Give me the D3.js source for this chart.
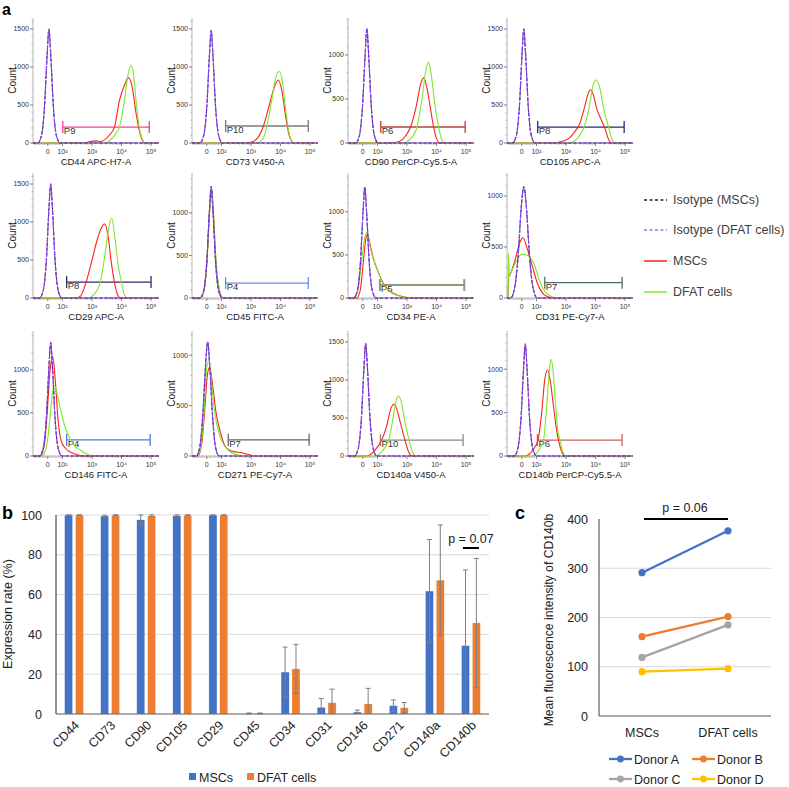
<!DOCTYPE html>
<html><head><meta charset="utf-8">
<script src="https://cdn.jsdelivr.net/npm/d3@7"></script>
<style>body{margin:0;background:#fff;} svg{display:block;}</style>
</head><body>
<svg id="chart" width="789" height="787"></svg>
<script>
// ---------- Panel a: flow cytometry histograms ----------
const histTitles = ["CD44 APC-H7-A","CD73 V450-A","CD90 PerCP-Cy5.5-A","CD105 APC-A",
  "CD29 APC-A","CD45 FITC-A","CD34 PE-A","CD31 PE-Cy7-A",
  "CD146 FITC-A","CD271 PE-Cy7-A","CD140a V450-A","CD140b PerCP-Cy5.5-A"];
const gateNames = ["P9","P10","P6","P8","P8","P4","P5","P7","P4","P7","P10","P6"];
const gateColors = ["#ff3aa0","#7a7a7a","#b04444","#2a2a7a","#2a2a6a","#6a8ee8","#8e9a7c","#4f6b6b","#4c7be6","#5a6a6a","#8a8a8a","#c86060"];
// [start channel, end channel, count level]
const gateRanges = [[2.01,4.94,210],[2.14,4.94,224],[2.11,4.97,182],[2.04,4.97,210],
  [2.14,5.0,210],[2.14,4.94,176],[2.08,4.94,150],[2.28,4.9,150],
  [2.14,4.97,186],[2.23,4.97,160],[2.1,4.9,210],[2.03,4.9,184]];
const histYMax = [1645,1645,1420,1645,1645,1470,1450,1225,1450,1240,1645,1440];
const xTickVals = [1.5,2,3,4,5];
const xTickLabels = ["0","10\u00b2","10\u00b3","10\u2074","10\u2075"];

// isotype controls (MSCs and DFAT cells overlap)
const isoCurves = [
  [[1,0],[1.16,0],[1.29,105],[1.39,480],[1.48,1170],[1.54,1500],[1.6,1170],[1.69,480],[1.79,105],[1.92,0],[5.27,0]],
  [[1,0],[1.27,0],[1.4,105],[1.5,470],[1.59,1150],[1.65,1480],[1.71,1150],[1.8,470],[1.9,105],[2.03,0],[5.27,0]],
  [[1,0],[1.26,0],[1.39,90],[1.49,410],[1.58,1000],[1.64,1300],[1.7,1000],[1.79,410],[1.89,90],[2.02,0],[5.27,0]],
  [[1,0],[1.19,0],[1.32,105],[1.42,480],[1.51,1170],[1.57,1500],[1.63,1170],[1.72,480],[1.82,105],[1.95,0],[5.27,0]],
  [[1,0],[1.22,0],[1.35,105],[1.45,480],[1.54,1170],[1.6,1500],[1.66,1170],[1.75,480],[1.85,105],[1.98,0],[5.27,0]],
  [[1,0],[1.27,0],[1.4,90],[1.5,420],[1.59,1020],[1.65,1310],[1.71,1020],[1.8,420],[1.9,90],[2.03,0],[5.27,0]],
  [[1,0],[1.19,0],[1.32,90],[1.42,410],[1.51,1000],[1.57,1290],[1.63,1000],[1.72,410],[1.82,90],[1.95,0],[5.27,0]],
  [[1,0],[1.12,0],[1.27,120],[1.38,420],[1.48,880],[1.57,1090],[1.66,880],[1.76,420],[1.87,120],[2.02,0],[5.27,0]],
  [[1,0],[1.22,0],[1.35,95],[1.45,420],[1.54,1030],[1.6,1315],[1.66,1030],[1.75,420],[1.85,95],[1.98,0],[5.27,0]],
  [[1,0],[1.15,0],[1.27,100],[1.37,430],[1.46,900],[1.53,1130],[1.6,900],[1.69,430],[1.79,100],[1.92,0],[5.27,0]],
  [[1,0],[1.22,0],[1.35,105],[1.45,470],[1.54,1150],[1.6,1480],[1.66,1150],[1.75,470],[1.85,105],[1.98,0],[5.27,0]],
  [[1,0],[1.24,0],[1.37,90],[1.47,410],[1.56,1000],[1.62,1290],[1.68,1000],[1.77,410],[1.87,90],[2.0,0],[5.27,0]]
];
const mscCurves = [
  [[1,0],[2.7,0],[2.95,20],[3.15,28],[3.3,20],[3.59,105],[3.76,210],[3.93,560],[4.1,760],[4.23,860],[4.38,700],[4.49,395],[4.66,80],[4.8,0],[5.27,0]],
  [[1,0],[2.85,0],[3.05,15],[3.25,80],[3.41,210],[3.6,470],[3.78,720],[3.92,830],[4.05,680],[4.18,330],[4.3,90],[4.45,0],[5.27,0]],
  [[1,0],[2.5,0],[2.75,20],[2.95,80],[3.12,182],[3.3,400],[3.47,680],[3.57,740],[3.68,620],[3.8,380],[3.9,182],[4.0,50],[4.12,0],[5.27,0]],
  [[1,0],[2.6,0],[2.85,20],[3.1,60],[3.3,150],[3.45,240],[3.62,460],[3.75,650],[3.83,700],[3.92,640],[4.05,440],[4.2,300],[4.33,180],[4.45,40],[4.55,0],[5.27,0]],
  [[1,0],[2.45,0],[2.6,20],[2.8,210],[3.0,500],[3.2,800],[3.42,975],[3.55,800],[3.66,450],[3.76,210],[3.86,50],[3.96,0],[5.27,0]],
  [[1,0],[1.28,0],[1.4,80],[1.5,400],[1.6,1050],[1.66,1290],[1.72,1040],[1.81,440],[1.92,100],[2.05,0],[5.27,0]],
  [[1,0],[1.3,0],[1.42,100],[1.52,420],[1.6,680],[1.66,735],[1.75,620],[1.85,470],[2.0,320],[2.15,200],[2.3,120],[2.5,60],[2.75,25],[3.0,5],[3.2,0],[5.27,0]],
  [[1,0],[1.03,0],[1.06,210],[1.12,240],[1.27,370],[1.43,540],[1.54,590],[1.7,470],[1.87,300],[2.03,145],[2.2,50],[2.36,15],[2.6,0],[5.27,0]],
  [[1,0],[1.25,0],[1.38,120],[1.48,500],[1.58,1000],[1.67,1150],[1.75,900],[1.85,420],[1.95,180],[2.1,90],[2.3,40],[2.5,15],[2.7,0],[5.27,0]],
  [[1,0],[1.2,0],[1.33,120],[1.43,450],[1.52,800],[1.6,880],[1.7,700],[1.82,420],[1.95,250],[2.1,110],[2.25,60],[2.5,40],[2.75,28],[2.95,12],[3.1,0],[5.27,0]],
  [[1,0],[1.6,0],[1.8,30],[1.98,110],[2.14,210],[2.3,380],[2.45,620],[2.56,685],[2.65,620],[2.78,430],[2.93,210],[3.05,60],[3.18,0],[5.27,0]],
  [[1,0],[1.6,0],[1.75,20],[1.9,80],[2.05,184],[2.17,480],[2.28,880],[2.37,990],[2.46,880],[2.58,560],[2.69,280],[2.78,130],[2.88,30],[2.98,0],[5.27,0]]
];
const dfatCurves = [
  [[1,0],[3.4,0],[3.6,30],[3.78,110],[3.93,210],[4.1,560],[4.22,900],[4.32,1020],[4.4,930],[4.49,565],[4.6,210],[4.72,40],[4.82,0],[5.27,0]],
  [[1,0],[3.2,0],[3.38,40],[3.53,210],[3.7,560],[3.85,880],[3.96,940],[4.06,820],[4.18,420],[4.3,110],[4.45,0],[5.27,0]],
  [[1,0],[2.9,0],[3.1,40],[3.34,182],[3.5,480],[3.65,850],[3.73,920],[3.82,780],[3.95,420],[4.07,182],[4.18,40],[4.28,0],[5.27,0]],
  [[1,0],[3.1,0],[3.3,30],[3.45,90],[3.61,210],[3.78,460],[3.92,760],[4.02,830],[4.12,760],[4.28,450],[4.44,210],[4.55,60],[4.65,0],[5.27,0]],
  [[1,0],[2.9,0],[3.05,40],[3.28,210],[3.45,600],[3.58,950],[3.67,1050],[3.78,780],[3.9,400],[4.0,210],[4.1,40],[4.2,0],[5.27,0]],
  [[1,0],[1.28,0],[1.4,80],[1.5,390],[1.6,1030],[1.66,1270],[1.72,1030],[1.81,450],[1.93,100],[2.06,0],[5.27,0]],
  [[1,0],[1.22,0],[1.35,120],[1.47,450],[1.57,700],[1.64,760],[1.72,640],[1.83,480],[2.0,320],[2.15,190],[2.3,110],[2.5,55],[2.75,20],[3.0,5],[3.2,0],[5.27,0]],
  [[1,0],[1.04,0],[1.05,440],[1.08,230],[1.2,290],[1.35,380],[1.5,430],[1.62,425],[1.78,400],[1.92,330],[2.1,170],[2.3,60],[2.5,15],[2.7,0],[5.27,0]],
  [[1,0],[1.3,0],[1.45,100],[1.57,420],[1.66,740],[1.73,815],[1.82,720],[1.92,560],[2.05,380],[2.25,200],[2.4,120],[2.6,70],[2.8,25],[3.05,0],[5.27,0]],
  [[1,0],[1.2,0],[1.32,130],[1.42,500],[1.5,880],[1.56,940],[1.65,760],[1.77,430],[1.92,220],[2.1,100],[2.3,40],[2.5,15],[2.7,0],[5.27,0]],
  [[1,0],[1.9,0],[2.1,40],[2.25,110],[2.38,210],[2.52,480],[2.64,740],[2.72,790],[2.8,720],[2.93,450],[3.07,210],[3.18,60],[3.3,0],[5.27,0]],
  [[1,0],[1.85,0],[2.0,30],[2.12,90],[2.24,184],[2.35,600],[2.44,1000],[2.49,1115],[2.55,1020],[2.64,620],[2.72,300],[2.8,184],[2.89,50],[2.99,0],[5.27,0]]
];
const histLegend = ["Isotype (MSCs)","Isotype (DFAT cells)","MSCs","DFAT cells"];

// ---------- Panel b: expression rates ----------
const markers = ["CD44","CD73","CD90","CD105","CD29","CD45","CD34","CD31","CD146","CD271","CD140a","CD140b"];
const mscRate  = [100, 99.5, 97.6, 99.7, 100, 0.3, 21.1, 3.4, 1.0, 4.2, 61.8, 34.4];
const dfatRate = [100, 99.9, 99.6, 99.9, 100, 0.3, 22.7, 5.7, 5.1, 3.2, 67.3, 45.8];
const mscSD    = [0.1, 0.4, 2.4, 0.4, 0.05, 0.2, 12.5, 4.4, 1.0, 2.9, 25.9, 38.0];
const dfatSD   = [0.05, 0.2, 0.5, 0.2, 0.05, 0.2, 12.3, 6.8, 7.8, 2.6, 27.7, 32.4];
const rateTicks = [0,20,40,60,80,100];
const groupNames = ["MSCs","DFAT cells"];

// ---------- Panel c: MFI of CD140b ----------
const cellTypes = ["MSCs","DFAT cells"];
const donors = ["Donor A","Donor B","Donor C","Donor D"];
const donorA = [291, 376];
const donorB = [161, 202];
const donorC = [119, 185];
const donorD = [90, 96];
const mfiTicks = [0,100,200,300,400];

const svg = d3.select("#chart");
const SANS = "'Liberation Sans', Arial, sans-serif";

// ===== Panel a =====
svg.append("text").attr("x",2).attr("y",15).attr("font-family",SANS).attr("font-weight","bold")
  .attr("font-size",16).text("a");

const colX = [33,192,348,507], rowY = [18,173,331], PW = 126, PH = 125;
histTitles.forEach((title,i)=>{
  const r = Math.floor(i/4), c = i%4;
  const g = svg.append("g").attr("transform",`translate(${colX[c]},${rowY[r]})`);
  const x = d3.scaleLinear().domain([1.0,5.27]).range([0,PW]);
  const y = d3.scaleLinear().domain([0,histYMax[i]]).range([PH,0]);
  // y axis
  g.append("line").attr("x1",0).attr("x2",0).attr("y1",0).attr("y2",PH).attr("stroke","#b4b4b4");
  d3.range(0,histYMax[i],100).forEach(v=>{
    g.append("line").attr("x1",-1.5).attr("x2",0).attr("y1",y(v)).attr("y2",y(v)).attr("stroke","#b4b4b4");
  });
  const yt = histYMax[i] >= 1500 ? [0,500,1000,1500] : [0,500,1000];
  yt.forEach(v=>{
    g.append("line").attr("x1",-3).attr("x2",0).attr("y1",y(v)).attr("y2",y(v)).attr("stroke","#888");
    g.append("text").attr("x",-4).attr("y",y(v)).attr("dy","0.35em").attr("text-anchor","end")
      .attr("font-family",SANS).attr("font-size",7).attr("fill","#333").text(v);
  });
  // x axis
  g.append("line").attr("x1",0).attr("x2",PW).attr("y1",PH).attr("y2",PH).attr("stroke","#b4b4b4");
  const minor = [];
  for (let v=1.04; v<1.98; v+=0.045) minor.push(v);
  [2,3,4].forEach(d=>[2,3,4,5,6,7,8,9].forEach(k=>minor.push(d+Math.log10(k))));
  minor.forEach(v=>{
    g.append("line").attr("x1",x(v)).attr("x2",x(v)).attr("y1",PH).attr("y2",PH+2).attr("stroke","#bbb").attr("stroke-width",0.8);
  });
  xTickVals.forEach((v,k)=>{
    g.append("line").attr("x1",x(v)).attr("x2",x(v)).attr("y1",PH).attr("y2",PH+3).attr("stroke","#888");
    g.append("text").attr("x",x(v)).attr("y",PH+11).attr("text-anchor","middle")
      .attr("font-family",SANS).attr("font-size",7).attr("fill","#333").text(xTickLabels[k]);
  });
  g.append("text").attr("x",PW/2).attr("y",PH+22).attr("text-anchor","middle")
    .attr("font-family",SANS).attr("font-size",9.5).attr("fill","#222").text(title);
  g.append("text").attr("transform",`translate(-17,${PH/2}) rotate(-90)`).attr("text-anchor","middle")
    .attr("font-family",SANS).attr("font-size",10).attr("fill","#222").text("Count");
  // gate
  const gr = gateRanges[i], gy = y(gr[2]);
  const gg = g.append("g").attr("stroke",gateColors[i]).attr("stroke-width", i===6 ? 2 : 1.3);
  gg.append("line").attr("x1",x(gr[0])).attr("x2",x(gr[1])).attr("y1",gy).attr("y2",gy);
  gg.append("line").attr("x1",x(gr[0])).attr("x2",x(gr[0])).attr("y1",gy-6).attr("y2",gy+6);
  gg.append("line").attr("x1",x(gr[1])).attr("x2",x(gr[1])).attr("y1",gy-6).attr("y2",gy+6);
  g.append("text").attr("x",x(gr[0])+1).attr("y",gy+7).attr("font-family",SANS).attr("font-size",9.5)
    .attr("fill","#333").text(gateNames[i]);
  // curves
  const line = d3.line().x(d=>x(d[0])).y(d=>y(d[1])).curve(d3.curveMonotoneX);
  g.append("path").attr("d",line(mscCurves[i])).attr("fill","none").attr("stroke","#ff2020").attr("stroke-width",1.1);
  g.append("path").attr("d",line(dfatCurves[i])).attr("fill","none").attr("stroke","#7ee82a").attr("stroke-width",1.1);
  g.append("path").attr("d",line(isoCurves[i])).attr("fill","none").attr("stroke","#222").attr("stroke-width",1.1).attr("stroke-dasharray","3,2");
  g.append("path").attr("d",line(isoCurves[i])).attr("fill","none").attr("stroke","#8a3ff0").attr("stroke-width",1.2).attr("stroke-dasharray","6,1");
});

// legend for panel a
const legStyles = [
  {stroke:"#222", dash:"3,2.5", w:1.3},
  {stroke:"#a070f0", dash:"3,2.5", w:1.3},
  {stroke:"#ff2020", dash:null, w:1.5},
  {stroke:"#7ee82a", dash:null, w:1.5}
];
const legY = [200,230,261,292];
histLegend.forEach((t,k)=>{
  const l = svg.append("line").attr("x1",644).attr("x2",667).attr("y1",legY[k]).attr("y2",legY[k])
    .attr("stroke",legStyles[k].stroke).attr("stroke-width",legStyles[k].w);
  if (legStyles[k].dash) l.attr("stroke-dasharray",legStyles[k].dash);
  svg.append("text").attr("x",673).attr("y",legY[k]).attr("dy","0.35em").attr("font-family",SANS)
    .attr("font-size",12.5).attr("fill","#404040").text(t);
});

// ===== Panel b =====
svg.append("text").attr("x",2).attr("y",519).attr("font-family",SANS).attr("font-weight","bold")
  .attr("font-size",18).text("b");
const bx = d3.scaleBand().domain(markers).range([56,489]);
const bInner = d3.scaleBand().domain(groupNames).range([-9.5,9.5]).paddingInner(0.25);
const by = d3.scaleLinear().domain([0,100]).range([714,515]);
const bColors = ["#4472c4","#ed7d31"];
rateTicks.forEach(v=>{
  if (v>0) svg.append("line").attr("x1",56).attr("x2",489).attr("y1",by(v)).attr("y2",by(v)).attr("stroke","#d9d9d9");
  svg.append("text").attr("x",42).attr("y",by(v)).attr("dy","0.36em").attr("text-anchor","end")
    .attr("font-family",SANS).attr("font-size",12.5).attr("fill","#222").text(v);
});
[mscRate, dfatRate].forEach((vals,s)=>{
  markers.forEach((m,k)=>{
    const cx = bx(m) + bx.bandwidth()/2 + bInner(groupNames[s]);
    svg.append("rect").attr("x",cx).attr("y",by(vals[k])).attr("width",bInner.bandwidth())
      .attr("height",by(0)-by(vals[k])).attr("fill",bColors[s]).attr("stroke","#fff").attr("stroke-width",0.4);
  });
});
[mscRate, dfatRate].forEach((vals,s)=>{
  const sds = s===0 ? mscSD : dfatSD;
  markers.forEach((m,k)=>{
    const ex = bx(m) + bx.bandwidth()/2 + bInner(groupNames[s]) + bInner.bandwidth()/2;
    const hi = by(vals[k]+sds[k]), lo = by(Math.max(0, vals[k]-sds[k]));
    const eg = svg.append("g").attr("stroke","#7f7f7f").attr("stroke-width",1);
    eg.append("line").attr("x1",ex).attr("x2",ex).attr("y1",hi).attr("y2",lo);
    eg.append("line").attr("x1",ex-2.5).attr("x2",ex+2.5).attr("y1",hi).attr("y2",hi);
    if (vals[k]-sds[k] > 0) eg.append("line").attr("x1",ex-2.5).attr("x2",ex+2.5).attr("y1",lo).attr("y2",lo);
  });
});
svg.append("line").attr("x1",56).attr("x2",489).attr("y1",714).attr("y2",714).attr("stroke","#595959");
svg.append("line").attr("x1",56).attr("x2",56).attr("y1",515).attr("y2",714).attr("stroke","#262626");
markers.forEach(m=>{
  const cx = bx(m) + bx.bandwidth()/2;
  svg.append("text").attr("transform",`translate(${cx+6},${726}) rotate(-45)`).attr("text-anchor","end")
    .attr("font-family",SANS).attr("font-size",12.5).attr("fill","#222").text(m);
});
svg.append("text").attr("transform",`translate(12,614) rotate(-90)`).attr("text-anchor","middle")
  .attr("font-family",SANS).attr("font-size",12.5).attr("fill","#222").text("Expression rate (%)");
// p value
const pxC = bx("CD140b") + bx.bandwidth()/2;
svg.append("line").attr("x1",pxC-8).attr("x2",pxC+8).attr("y1",548).attr("y2",548).attr("stroke","#000").attr("stroke-width",2);
svg.append("text").attr("x",pxC).attr("y",543).attr("text-anchor","middle").attr("font-family",SANS)
  .attr("font-size",12.5).attr("fill","#222").text("p = 0.07");
// legend b
[[189,"MSCs"],[247,"DFAT cells"]].forEach((d,s)=>{
  svg.append("rect").attr("x",d[0]).attr("y",773).attr("width",7).attr("height",7).attr("fill",bColors[s]);
  svg.append("text").attr("x",d[0]+10).attr("y",777).attr("dy","0.36em").attr("font-family",SANS)
    .attr("font-size",12.5).attr("fill","#222").text(groupNames[s]);
});

// ===== Panel c =====
svg.append("text").attr("x",515).attr("y",519).attr("font-family",SANS).attr("font-weight","bold")
  .attr("font-size",18).text("c");
const cx = d3.scalePoint().domain(cellTypes).range([599,771]).padding(0.5);
const cy = d3.scaleLinear().domain([0,400]).range([716,519]);
mfiTicks.forEach(v=>{
  if (v>0 && v<400) svg.append("line").attr("x1",599).attr("x2",771).attr("y1",cy(v)).attr("y2",cy(v)).attr("stroke","#d9d9d9");
  svg.append("text").attr("x",588).attr("y",cy(v)).attr("dy","0.36em").attr("text-anchor","end")
    .attr("font-family",SANS).attr("font-size",12.5).attr("fill","#222").text(v);
});
svg.append("line").attr("x1",599).attr("x2",771).attr("y1",716).attr("y2",716).attr("stroke","#595959");
svg.append("line").attr("x1",599).attr("x2",599).attr("y1",519).attr("y2",716).attr("stroke","#404040");
cellTypes.forEach(t=>{
  svg.append("text").attr("x",cx(t)).attr("y",732).attr("dy","0.36em").attr("text-anchor","middle")
    .attr("font-family",SANS).attr("font-size",12.5).attr("fill","#222").text(t);
});
svg.append("text").attr("transform",`translate(553,620) rotate(-90)`).attr("text-anchor","middle")
  .attr("font-family",SANS).attr("font-size",12.2).attr("fill","#222").text("Mean fluorescence intensity of CD140b");
const donorVals = [donorA, donorB, donorC, donorD];
const dColors = ["#4472c4","#ed7d31","#a5a5a5","#ffc000"];
const cline = d3.line().x((d,k)=>cx(cellTypes[k])).y(d=>cy(d));
donorVals.forEach((vals,k)=>{
  svg.append("path").attr("d",cline(vals)).attr("fill","none").attr("stroke",dColors[k]).attr("stroke-width",2.3);
  vals.forEach((v,j)=>svg.append("circle").attr("cx",cx(cellTypes[j])).attr("cy",cy(v)).attr("r",3.6).attr("fill",dColors[k]));
});
svg.append("line").attr("x1",cx("MSCs")+2).attr("x2",cx("DFAT cells")).attr("y1",519).attr("y2",519).attr("stroke","#000").attr("stroke-width",2.2);
svg.append("text").attr("x",(cx("MSCs")+cx("DFAT cells"))/2).attr("y",512).attr("text-anchor","middle")
  .attr("font-family",SANS).attr("font-size",12.5).attr("fill","#222").text("p = 0.06");
// legend c
const cLegPos = [[609,759],[692,759],[609,779],[692,779]];
donors.forEach((d,k)=>{
  const [lx,ly] = cLegPos[k];
  svg.append("line").attr("x1",lx).attr("x2",lx+23).attr("y1",ly).attr("y2",ly).attr("stroke",dColors[k]).attr("stroke-width",2.3);
  svg.append("circle").attr("cx",lx+11.5).attr("cy",ly).attr("r",3.4).attr("fill",dColors[k]);
  svg.append("text").attr("x",lx+25).attr("y",ly).attr("dy","0.36em").attr("font-family",SANS)
    .attr("font-size",12.5).attr("fill","#222").text(d);
});
</script></body></html>
